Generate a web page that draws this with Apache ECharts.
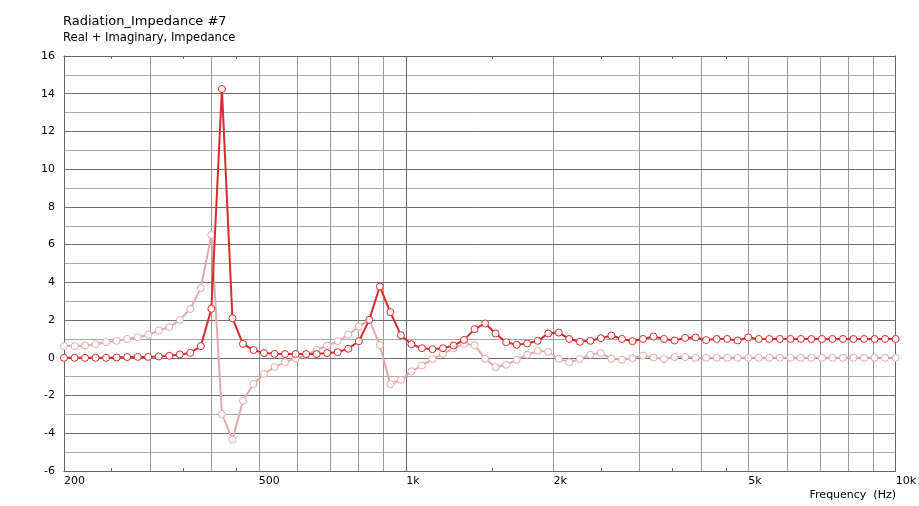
<!DOCTYPE html>
<html><head><meta charset="utf-8">
<script src="https://cdn.jsdelivr.net/npm/echarts@6/dist/echarts.min.js"></script>
<style>html,body{margin:0;padding:0;background:#fff}#c{width:919px;height:506px}</style>
</head><body><div id="c"></div>
<script>
const titleText = 'Radiation_Impedance #7';
const subtitleText = 'Real + Imaginary, Impedance';
const xAxisName = 'Frequency  (Hz)';
const freqs = [200,210.2,220.8,232.0,243.8,256.2,269.2,282.9,297.2,312.3,328.2,344.8,362.3,380.7,400.1,420.4,441.7,464.1,487.7,512.5,538.5,565.8,594.5,624.7,656.4,689.7,724.8,761.6,800.2,840.8,883.5,928.4,975.5,1025,1077,1132,1189,1250,1313,1380,1450,1523,1601,1682,1767,1857,1951,2050,2154,2264,2379,2499,2626,2760,2900,3047,3202,3364,3535,3715,3903,4101,4309,4528,4758,5000,5253,5520,5800,6095,6404,6729,7071,7430,7807,8203,8620,9058,9517,10000];
const realValues = [0,0,0,0,0,0.02,0.04,0.05,0.05,0.07,0.11,0.18,0.26,0.62,2.6,14.25,2.1,0.74,0.41,0.25,0.21,0.2,0.2,0.2,0.2,0.25,0.3,0.48,0.88,2.01,3.78,2.42,1.2,0.72,0.51,0.46,0.51,0.65,0.95,1.52,1.82,1.29,0.83,0.69,0.76,0.9,1.29,1.34,1.0,0.85,0.9,1.04,1.18,1.0,0.88,1.0,1.13,1.0,0.92,1.06,1.08,0.94,1.0,1.0,0.92,1.08,1.0,1.0,1.0,1.0,1.0,1.0,1.0,1.0,1.0,1.0,1.0,1.0,1.0,1.0];
const imagValues = [0.62,0.62,0.65,0.72,0.83,0.9,1.0,1.09,1.22,1.45,1.63,2.01,2.59,3.7,6.52,-2.98,-4.34,-2.28,-1.39,-0.85,-0.49,-0.23,-0.03,0.16,0.42,0.64,0.88,1.22,1.66,2.01,0.67,-1.4,-1.17,-0.72,-0.41,-0.07,0.21,0.5,0.75,0.67,-0.05,-0.49,-0.37,-0.1,0.16,0.37,0.32,-0.05,-0.23,-0.07,0.16,0.25,-0.05,-0.1,-0.02,0.12,0.02,-0.07,0.04,0.04,0,0,0,0,0,0,0,0,0,0,0,0,0,0,0,0,0,0,0,0];
const xLabelValues = [200,500,1000,2000,5000,10000];
const xMinorTicks = [250,350,450,1500,2500,3500,4500];
const xGridLight = [300,400,500,600,700,800,900,2000,3000,4000,5000,6000,7000,8000,9000];
const xGridDark = [1000];

const FONT = 'DejaVu Sans';
const chart = echarts.init(document.getElementById('c'), null, {renderer:'canvas'});
const xBase = {type:'log', logBase:10, min:200, max:10000, gridIndex:0};
function fmt(v){ return v>=1000 ? (v/1000)+'k' : String(v); }
const option = {
  animation:false,
  backgroundColor:'#fff',
  title:{text:titleText, subtext:subtitleText, left:58, top:10, itemGap:4,
    textStyle:{fontFamily:FONT, fontSize:13, fontWeight:'normal', color:'#000'},
    subtextStyle:{fontFamily:FONT, fontSize:11.6, color:'#000'}},
  grid:{left:64, top:56, width:832, height:415, containLabel:false},
  graphic:[{type:'text', right:23, top:490, style:{text:xAxisName, font:'11px "DejaVu Sans"', fill:'#000'}}],
  xAxis:[
    Object.assign({}, xBase, {position:'bottom', z:3,
      axisLine:{show:true, onZero:false, lineStyle:{color:'#666', width:1}},
      axisTick:{show:true, inside:true, length:3, customValues:xMinorTicks, lineStyle:{color:'#666'}},
      axisLabel:{show:true, customValues:xLabelValues, formatter:fmt, align:'left', margin:5,
        fontFamily:FONT, fontSize:11, color:'#000'},
      splitLine:{show:false}}),
    Object.assign({}, xBase, {position:'top', z:3,
      axisLine:{show:true, onZero:false, lineStyle:{color:'#666', width:1}},
      axisTick:{show:true, inside:true, length:3, customValues:xMinorTicks, lineStyle:{color:'#666'}},
      axisLabel:{show:false}, splitLine:{show:false}}),
    Object.assign({}, xBase, {position:'bottom', z:1,
      axisLine:{show:false, onZero:false}, axisLabel:{show:false},
      axisTick:{show:false, customValues:xGridLight},
      splitLine:{show:true, lineStyle:{color:'#999', width:1}}}),
    Object.assign({}, xBase, {position:'bottom', z:2,
      axisLine:{show:false, onZero:false}, axisLabel:{show:false},
      axisTick:{show:false, customValues:xGridDark},
      splitLine:{show:true, lineStyle:{color:'#666', width:1}}})
  ],
  yAxis:[
    {type:'value', min:-6, max:16, interval:2, position:'left', z:2,
      axisLine:{show:true, onZero:false, lineStyle:{color:'#666'}}, axisTick:{show:false},
      axisLabel:{fontFamily:FONT, fontSize:11, color:'#000', margin:9},
      splitLine:{show:true, lineStyle:{color:'#707070', width:1}}},
    {type:'value', min:-6, max:16, interval:1, position:'right', z:1,
      axisLine:{show:true, onZero:false, lineStyle:{color:'#666'}}, axisTick:{show:false},
      axisLabel:{show:false},
      splitLine:{show:true, lineStyle:{color:'#a8a8a8', width:1}}}
  ],
  series:[
    {name:'Imaginary', type:'line', xAxisIndex:0, yAxisIndex:0, z:3,
      data:freqs.map((f,i)=>[f, imagValues[i]]),
      symbol:'circle', symbolSize:7, showSymbol:true,
      lineStyle:{color:'#e2aaaa', width:2},
      itemStyle:{color:'#fff', borderColor:'#e2aaaa', borderWidth:1}},
    {name:'Real', type:'line', xAxisIndex:0, yAxisIndex:0, z:4,
      data:freqs.map((f,i)=>[f, realValues[i]]),
      symbol:'circle', symbolSize:7, showSymbol:true,
      lineStyle:{color:'#d92b2b', width:2},
      itemStyle:{color:'#fff', borderColor:'#d92b2b', borderWidth:1}}
  ]
};
chart.setOption(option);
</script></body></html>
